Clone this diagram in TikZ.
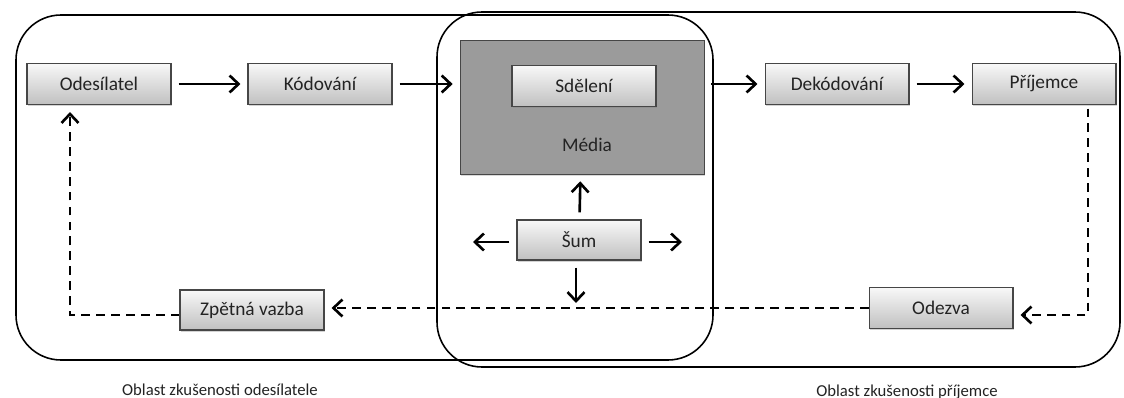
\documentclass[tikz,border=0pt]{standalone}
\usepackage{fontspec}
\setmainfont{Carlito}
\usepackage{xcolor}
\usepackage{tikz}
\usetikzlibrary{arrows.meta, positioning, calc, shadows}
\definecolor{boxedge}{RGB}{70, 70, 70}
\definecolor{boxtop}{RGB}{248, 248, 248}
\definecolor{boxbottom}{RGB}{192, 192, 192}
\definecolor{mediagray}{RGB}{155, 155, 155}
\definecolor{txt}{RGB}{35, 35, 35}

\begin{document}
\begin{tikzpicture}[
    x=0.02cm, y=-0.02cm,
    region/.style={draw, line width=0.9pt, rounded corners=0.9cm},
    stage/.style={draw=boxedge, line width=0.6pt, top color=boxtop, bottom color=boxbottom,
        minimum width=2.88cm, minimum height=0.82cm, text=txt,
        font=\fontsize{11}{13}\selectfont,
        drop shadow={opacity=0.35, shadow xshift=0.7pt, shadow yshift=-0.9pt}},
    flow/.style={line width=1.5pt, -{Straight Barb[length=1.8mm, width=3.4mm, line width=1.5pt]},
        shorten <=4pt, shorten >=4pt},
    back/.style={flow, dash pattern=on 5pt off 3.5pt},
    caption/.style={font=\fontsize{9.5}{11}\selectfont, text=txt},
]
    \useasboundingbox (0,0) rectangle (1124,398);

    % Areas of experience
    \draw[region] (16,15) rectangle (713,360);
    \draw[region] (437,12) rectangle (1120,367);

    % Media
    \node[draw=boxedge, fill=mediagray, minimum width=4.88cm, minimum height=2.68cm,
        drop shadow={opacity=0.3, shadow xshift=0.7pt, shadow yshift=-0.9pt}] (media) at (582,107) {};
    \node[text=txt, font=\fontsize{11}{13}\selectfont] (medialabel) at (587,145) {Média};
    \node[stage] (sdel) at (584,86) {Sdělení};

    % Top row
    \node[stage] (odes) at (99,84) {Odesílatel};
    \node[stage] (kod) at (320,84) {Kódování};
    \node[stage] (dekod) at (837,84) {Dekódování};
    \node[stage] (prij) at (1044,84) {Příjemce};

    % Noise
    \node[stage, minimum width=2.48cm, minimum height=0.8cm] (sum) at (579,240) {Šum};
    \coordinate (sumleft) at (473,242);
    \coordinate (sumright) at (682,242);
    \coordinate (sumdown) at (576,303);

    % Bottom row
    \node[stage, minimum height=0.8cm] (zpet) at (252,310) {Zpětná vazba};
    \node[stage] (odezva) at (941,308) {Odezva};
    \coordinate (pcorner) at (1088,315);
    \coordinate (scorner) at (70,315);

    % Main flow
    \draw[flow] (odes) -- (kod);
    \draw[flow] (kod) -- (media.west |- kod);
    \draw[flow] (media.east |- dekod) -- (dekod);
    \draw[flow] (dekod) -- (prij);

    % Noise arrows
    \draw[flow] (sum) -- (media);
    \draw[flow, shorten >=0pt] (sum.west |- sumleft) -- (sumleft);
    \draw[flow, shorten >=0pt] (sum.east |- sumright) -- (sumright);
    \draw[flow, shorten >=0pt] (sum.south -| sumdown) -- (sumdown);

    % Feedback loop
    \draw[back, shorten <=2pt] (prij.south -| pcorner) -- (pcorner) -- (pcorner -| odezva.east);
    \draw[back, shorten <=0pt] (odezva.west) -- (odezva.west -| zpet.east);
    \draw[back, shorten <=0pt] (scorner -| zpet.west) -- (scorner) -- (scorner |- odes.south);

    % Captions
    \node[caption] (capsend) at (220,390) {Oblast zkušenosti odesílatele};
    \node[caption] (caprecv) at (907,392) {Oblast zkušenosti příjemce};
\end{tikzpicture}
\end{document}
